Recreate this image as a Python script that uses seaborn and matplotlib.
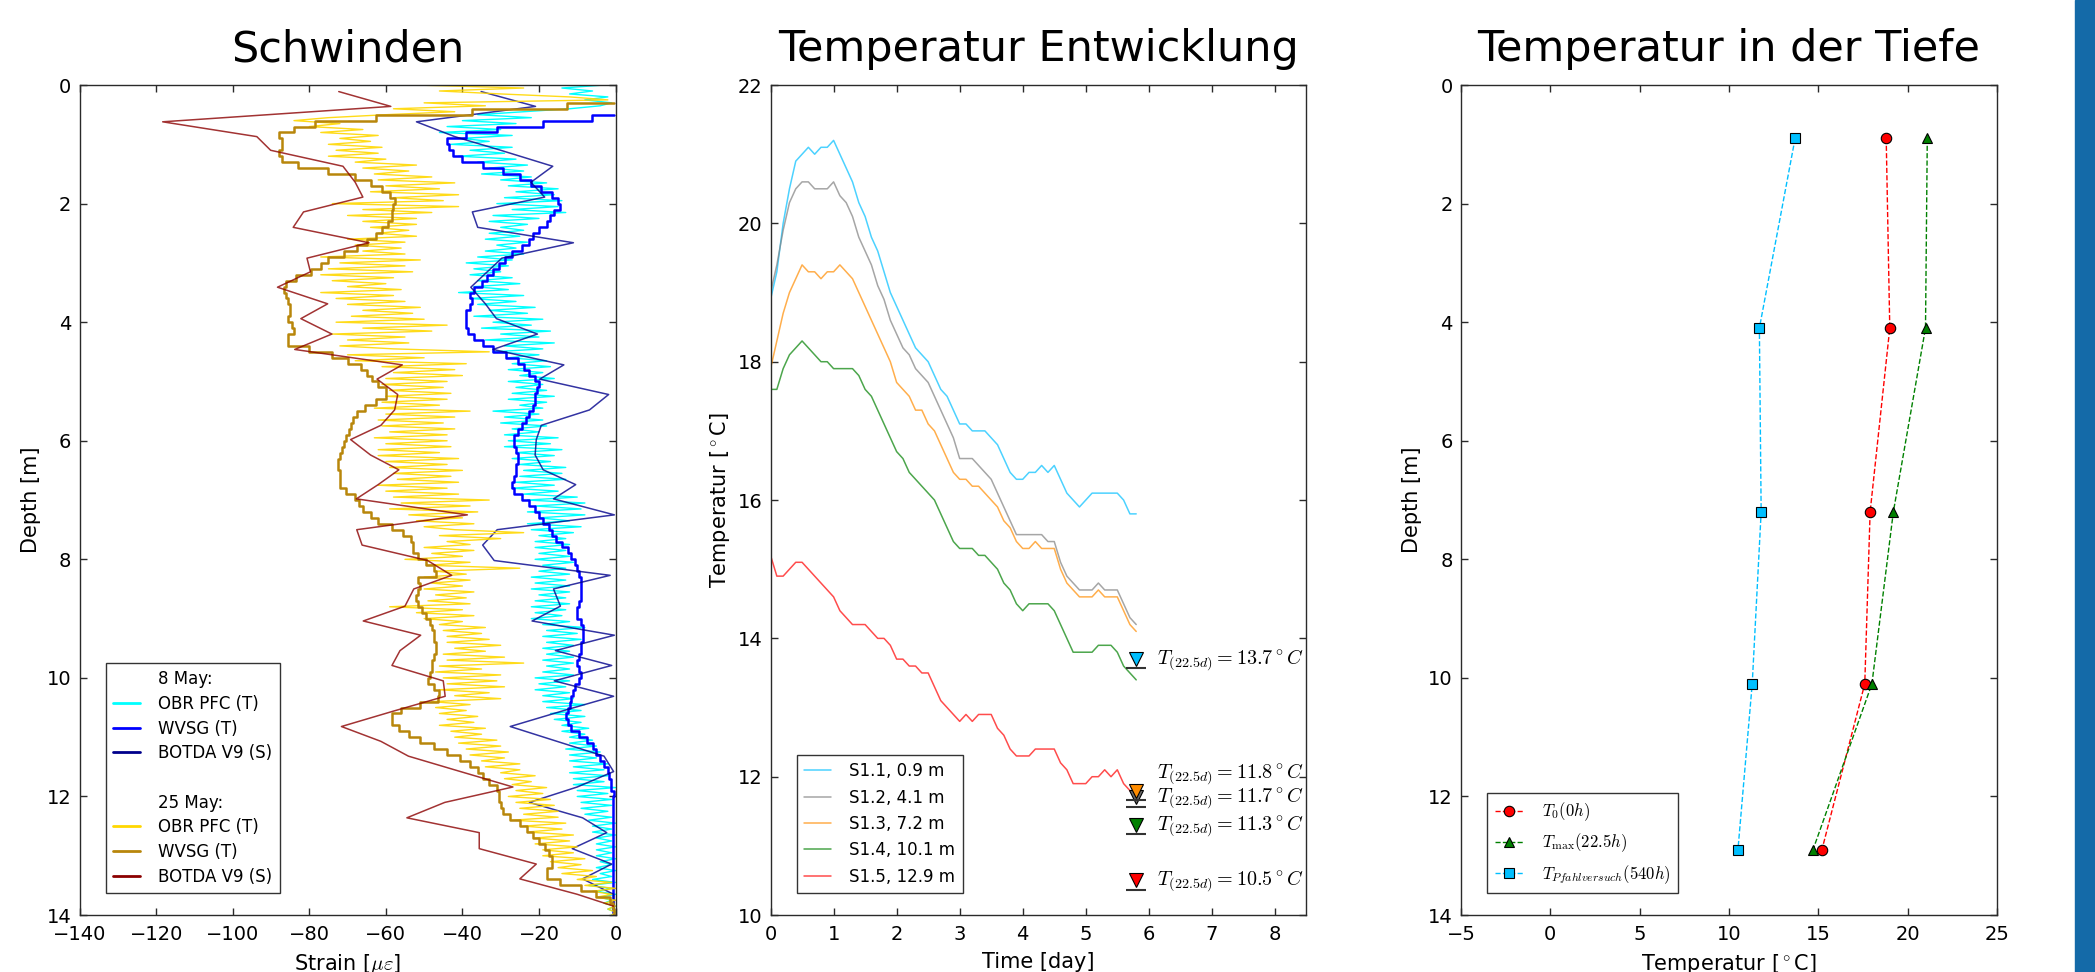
import numpy as np
import matplotlib
matplotlib.use("Agg")
import matplotlib.pyplot as plt
import seaborn as sns
from matplotlib.lines import Line2D
from matplotlib.patches import Rectangle

# ---------------- Schwinden (strain over depth) ----------------
depth_obr = np.round(np.arange(0, 14.001, 0.05), 2)

obr_may08 = [
    -3, -14, -6, -12, -2, -8, -1, -4, -12, -24,
    -36, -22, -40, -26, -44, -30, -46, -27, -40, -33,
    -43, -27, -38, -29, -41, -26, -36, -23, -33, -24,
    -35, -22, -30, -18, -28, -15, -26, -16, -29, -14,
    -31, -15, -27, -13, -32, -20, -33, -23, -30, -24,
    -33, -25, -34, -23, -31, -26, -34, -24, -36, -27,
    -39, -28, -37, -30, -38, -27, -36, -25, -37, -28,
    -41, -24, -38, -26, -36, -21, -33, -23, -37, -19,
    -32, -22, -35, -17, -30, -20, -34, -16, -29, -19,
    -32, -20, -28, -18, -27, -17, -28, -19, -25, -16,
    -28, -19, -26, -18, -27, -16, -28, -18, -25, -19,
    -32, -20, -29, -19, -30, -18, -27, -20, -29, -15,
    -28, -17, -29, -14, -26, -16, -27, -17, -25, -13,
    -24, -14, -25, -13, -26, -16, -27, -15, -24, -10,
    -23, -8, -21, -9, -23, -8, -20, -12, -23, -9,
    -22, -11, -20, -13, -21, -12, -21, -13, -20, -12,
    -21, -11, -19, -13, -20, -12, -22, -13, -21, -12,
    -22, -12, -20, -13, -21, -12, -22, -13, -21, -14,
    -22, -12, -19, -8, -18, -10, -19, -9, -18, -11,
    -19, -12, -18, -11, -19, -11, -18, -12, -19, -11,
    -21, -12, -20, -13, -21, -12, -19, -11, -19, -8,
    -18, -9, -17, -8, -16, -9, -14, -7, -14, -8,
    -12, -6, -12, -5, -13, -4, -12, -5, -12, -2,
    -11, -3, -12, -2, -11, -3, -11, 0, -10, -2,
    -10, -1, -9, -1, -9, -2, -8, -1, -7, 0,
    -6, -1, -6, 0, -5, -1, -5, 0, -5, -1,
    -5, 0, -4, -1, -5, 0, -4, -1, -6, 0,
    -7, -1, -5, 0, -4, -1, -3, 0, -2, 0,
    -1,
]

obr_may25 = [
    -52, -24, -46, -30, -12, -2, -50, -34, -58, -42,
    -60, -75, -84, -72, -80, -66, -77, -62, -72, -64,
    -75, -61, -73, -62, -75, -60, -68, -52, -66, -54,
    -63, -48, -62, -42, -60, -46, -64, -41, -58, -45,
    -74, -41, -66, -48, -70, -52, -66, -52, -64, -54,
    -62, -52, -70, -55, -68, -56, -66, -55, -77, -51,
    -72, -55, -75, -53, -77, -58, -74, -60, -70, -56,
    -77, -58, -73, -55, -70, -51, -66, -53, -69, -50,
    -73, -44, -66, -48, -74, -55, -70, -54, -72, -58,
    -33, -70, -50, -68, -39, -61, -42, -58, -40, -60,
    -44, -61, -45, -59, -43, -60, -44, -61, -46, -63,
    -38, -60, -42, -62, -45, -61, -42, -59, -44, -63,
    -44, -60, -43, -62, -46, -62, -41, -60, -44, -59,
    -40, -58, -43, -57, -41, -62, -44, -60, -41, -58,
    -33, -56, -38, -59, -36, -54, -40, -52, -37, -50,
    -42, -24, -46, -30, -44, -38, -50, -37, -48, -40,
    -55, -38, -49, -25, -47, -39, -50, -38, -48, -40,
    -50, -37, -47, -39, -49, -38, -59, -40, -52, -37,
    -50, -40, -46, -34, -45, -35, -44, -33, -44, -30,
    -42, -34, -45, -29, -44, -24, -46, -35, -47, -30,
    -45, -31, -44, -29, -46, -33, -42, -30, -48, -38,
    -47, -39, -46, -36, -44, -37, -46, -34, -43, -35,
    -42, -31, -41, -30, -39, -28, -38, -29, -35, -25,
    -34, -25, -30, -21, -29, -22, -27, -18, -26, -19,
    -28, -17, -26, -16, -25, -15, -24, -15, -27, -13,
    -24, -14, -23, -11, -21, -12, -21, -10, -19, -11,
    -19, -8, -17, -9, -15, -6, -14, -5, -10, -1,
    -8, 0, -6, -1, -5, 0, -3, 0, -2, 0,
    -1,
]

depth_wvsg_may08 = np.round(np.arange(0.5, 14.001, 0.1), 1)
wvsg_may08 = [
    -0.5, -12, -26, -36, -42,
    -46, -41, -44, -36, -33,
    -26, -24, -20, -19, -14,
    -16, -13, -19, -15, -21,
    -19, -24, -21, -28, -26,
    -32, -29, -35, -32, -38,
    -36, -40, -35, -41, -37,
    -41, -37, -40, -34, -35,
    -29, -28, -23, -25, -20,
    -22, -18, -23, -19, -23,
    -20, -25, -22, -27, -24,
    -29, -24, -28, -23, -28,
    -24, -28, -25, -29, -24,
    -25, -20, -22, -18, -20,
    -15, -18, -13, -15, -10,
    -13, -8, -12, -7, -11,
    -7, -11, -7, -12, -8,
    -12, -6, -11, -6, -11,
    -7, -11, -8, -12, -7,
    -11, -8, -13, -9, -14,
    -10, -15, -11, -14, -9,
    -10, -5, -7, -3, -5,
    -1, -3, -0.5, -2, -0.5,
    -0.5, -1, -0.5, -1, -0.5,
    -1, -0.5, -1, -0.5, -1,
    -0.5, -1, -0.5, -1, -0.5,
    -1, -0.5, -1, -0.5, -1,
    -0.5,
]

depth_wvsg_may25 = np.round(np.arange(0.3, 14.001, 0.1), 1)
wvsg_may25 = [
    -0.5, -25, -50, -75, -82,
    -86, -90, -84, -90, -86,
    -88, -78, -72, -64, -64,
    -58, -60, -55, -61, -56,
    -61, -58, -64, -61, -69,
    -66, -76, -74, -80, -79,
    -88, -84, -89, -83, -88,
    -82, -88, -83, -86, -82,
    -89, -82, -78, -70, -70,
    -63, -67, -60, -64, -56,
    -64, -61, -70, -65, -72,
    -66, -73, -68, -74, -69,
    -75, -70, -75, -69, -75,
    -69, -72, -64, -70, -62,
    -66, -58, -59, -52, -55,
    -51, -55, -48, -51, -44,
    -50, -53, -49, -54, -50,
    -53, -48, -51, -46, -50,
    -45, -50, -44, -50, -45,
    -51, -45, -52, -46, -49,
    -43, -50, -52, -60, -57,
    -60, -53, -55, -47, -48,
    -40, -41, -35, -37, -32,
    -34, -28, -33, -28, -32,
    -27, -28, -22, -24, -19,
    -21, -16, -19, -14, -19,
    -17, -19, -10, -8, -2,
    -1, -0.5, -0.5,
]

depth_botda = [0.11, 0.36, 0.62, 0.87, 1.10, 1.37, 1.64, 1.89, 2.14, 2.40,
               2.66, 2.92, 3.15, 3.41, 3.69, 3.94, 4.20, 4.46, 4.72, 4.96,
               5.22, 5.48, 5.74, 5.98, 6.24, 6.49, 6.74, 6.98, 7.25, 7.50,
               7.76, 8.02, 8.27, 8.50, 8.79, 9.04, 9.28, 9.54, 9.79, 10.05,
               10.31, 10.56, 10.82, 11.07, 11.32, 11.58, 11.84, 12.10, 12.36, 12.61,
               12.88, 13.14, 13.39, 13.65, 13.85]
botda_may08 = [-35.1, -20.9, -52.0, -42.0, -30.0, -16.4, -22.1, -18.5, -37.4, -36.0,
               -11.0, -29.7, -33.5, -37.8, -34.0, -31.1, -20.4, -32.0, -13.5, -19.8,
               -1.8, -6.8, -19.4, -20.7, -21.0, -18.9, -10.4, -16.2, -0.3, -30.9,
               -34.7, -31.7, -1.4, -16.2, -14.4, -21.8, -0.3, -15.7, -1.0, -16.0,
               -0.5, -14.0, -27.5, -15.3, -3.0, -0.5, -10.0, -22.5, -8.6, -2.3,
               -11.3, -1.0, -8.6, -0.5, -0.5]
botda_may25 = [-72.3, -58.7, -118.3, -93.7, -90.1, -71.2, -68.0, -66.0, -81.5, -84.2,
               -64.4, -80.6, -79.7, -88.3, -75.2, -82.2, -74.1, -83.8, -55.7, -62.3,
               -56.9, -57.7, -61.3, -69.2, -64.0, -56.6, -62.0, -67.7, -38.7, -67.6,
               -66.2, -49.1, -42.8, -52.7, -55.0, -65.9, -50.9, -56.3, -58.4, -45.0,
               -44.5, -58.0, -71.6, -61.3, -54.1, -40.5, -26.8, -44.6, -54.5, -35.6,
               -35.6, -20.7, -25.0, -10.0, -0.5]

# ---------------- Temperatur Entwicklung (temperature over time) ----------------
time_days = np.round(np.arange(0, 5.85, 0.1), 1)
temp_s11 = [18.9, 19.3, 20.0, 20.5, 20.9, 21.0, 21.1, 21.0, 21.1, 21.1,
            21.2, 21.0, 20.8, 20.6, 20.3, 20.1, 19.8, 19.6, 19.3, 19.0,
            18.8, 18.6, 18.4, 18.2, 18.1, 18.0, 17.8, 17.6, 17.5, 17.3,
            17.1, 17.1, 17.0, 17.0, 17.0, 16.9, 16.8, 16.6, 16.4, 16.3,
            16.3, 16.4, 16.4, 16.5, 16.4, 16.5, 16.3, 16.1, 16.0, 15.9,
            16.0, 16.1, 16.1, 16.1, 16.1, 16.1, 16.0, 15.8, 15.8]
temp_s12 = [19.0, 19.4, 19.9, 20.3, 20.5, 20.6, 20.6, 20.5, 20.5, 20.5,
            20.6, 20.4, 20.3, 20.1, 19.8, 19.6, 19.4, 19.1, 18.9, 18.6,
            18.4, 18.2, 18.1, 17.9, 17.8, 17.7, 17.5, 17.3, 17.1, 16.9,
            16.6, 16.6, 16.6, 16.5, 16.4, 16.3, 16.1, 15.9, 15.7, 15.5,
            15.5, 15.5, 15.5, 15.5, 15.4, 15.4, 15.1, 14.9, 14.8, 14.7,
            14.7, 14.7, 14.8, 14.7, 14.7, 14.7, 14.5, 14.3, 14.2]
temp_s13 = [17.9, 18.3, 18.7, 19.0, 19.2, 19.4, 19.3, 19.3, 19.2, 19.3,
            19.3, 19.4, 19.3, 19.2, 19.0, 18.8, 18.6, 18.4, 18.2, 18.0,
            17.7, 17.6, 17.5, 17.3, 17.3, 17.1, 17.0, 16.8, 16.6, 16.4,
            16.3, 16.3, 16.2, 16.2, 16.1, 16.0, 15.9, 15.7, 15.6, 15.4,
            15.3, 15.3, 15.4, 15.3, 15.3, 15.3, 15.0, 14.8, 14.7, 14.6,
            14.6, 14.6, 14.7, 14.6, 14.6, 14.6, 14.4, 14.2, 14.1]
temp_s14 = [17.6, 17.6, 17.9, 18.1, 18.2, 18.3, 18.2, 18.1, 18.0, 18.0,
            17.9, 17.9, 17.9, 17.9, 17.8, 17.6, 17.5, 17.3, 17.1, 16.9,
            16.7, 16.6, 16.4, 16.3, 16.2, 16.1, 16.0, 15.8, 15.6, 15.4,
            15.3, 15.3, 15.3, 15.2, 15.2, 15.1, 15.0, 14.8, 14.7, 14.5,
            14.4, 14.5, 14.5, 14.5, 14.5, 14.4, 14.2, 14.0, 13.8, 13.8,
            13.8, 13.8, 13.9, 13.9, 13.9, 13.8, 13.6, 13.5, 13.4]
temp_s15 = [15.2, 14.9, 14.9, 15.0, 15.1, 15.1, 15.0, 14.9, 14.8, 14.7,
            14.6, 14.4, 14.3, 14.2, 14.2, 14.2, 14.1, 14.0, 14.0, 13.9,
            13.7, 13.7, 13.6, 13.6, 13.5, 13.5, 13.3, 13.1, 13.0, 12.9,
            12.8, 12.9, 12.8, 12.9, 12.9, 12.9, 12.7, 12.6, 12.4, 12.3,
            12.3, 12.3, 12.4, 12.4, 12.4, 12.4, 12.2, 12.1, 11.9, 11.9,
            11.9, 12.0, 12.0, 12.1, 12.0, 12.1, 11.9, 11.8, 11.7]
sensor_labels = ["S1.1, 0.9 m", "S1.2, 4.1 m", "S1.3, 7.2 m", "S1.4, 10.1 m", "S1.5, 12.9 m"]
t_marker = 5.8
label_nudge = [0, 0, 0.25, 0, 0]

# ---------------- Temperatur in der Tiefe ----------------
sensor_depth = [0.9, 4.1, 7.2, 10.1, 12.9]
temp_t0 = [18.8, 19.0, 17.9, 17.6, 15.2]
temp_tmax = [21.1, 21.0, 19.2, 18.0, 14.7]
temp_pfahl = [13.7, 11.7, 11.8, 11.3, 10.5]

# ---------------- style ----------------
sns.set_style("ticks")
plt.rcParams["font.family"] = ["DejaVu Sans"]
plt.rcParams.update({
    "mathtext.fontset": "cm",
    "text.color": "black", "axes.labelcolor": "black",
    "xtick.direction": "in", "ytick.direction": "in",
    "xtick.top": True, "ytick.right": True,
    "xtick.major.size": 5, "ytick.major.size": 5,
    "xtick.major.width": 1, "ytick.major.width": 1,
    "xtick.major.pad": 7, "ytick.major.pad": 6,
    "xtick.labelsize": 14, "ytick.labelsize": 14,
    "axes.edgecolor": "#2a2a2a", "axes.linewidth": 1.0,
    "xtick.color": "#2a2a2a", "ytick.color": "#2a2a2a",
    "xtick.labelcolor": "black", "ytick.labelcolor": "black",
})

fig = plt.figure(figsize=(20.95, 9.72), dpi=100)
ax1 = fig.add_axes([0.0380, 0.0586, 0.2558, 0.8539])
ax2 = fig.add_axes([0.3678, 0.0586, 0.2558, 0.8539])
ax3 = fig.add_axes([0.6974, 0.0586, 0.2558, 0.8539])

leg_kw = dict(loc="lower left", bbox_to_anchor=(0.033, 0.0165), fontsize=12,
              fancybox=False, edgecolor="#333333", framealpha=1, borderpad=0.45,
              handlelength=1.6, handletextpad=1.1)

# panel 1
line_kw = dict(orient="y", sort=False, estimator=None, ax=ax1, legend=False)
sns.lineplot(x=obr_may08, y=depth_obr, color="cyan", linewidth=1.0, **line_kw)
sns.lineplot(x=wvsg_may08, y=depth_wvsg_may08, color="blue", linewidth=1.8,
             drawstyle="steps-mid", **line_kw)
sns.lineplot(x=botda_may08, y=depth_botda, color="darkblue", alpha=0.8, linewidth=1.1, **line_kw)
sns.lineplot(x=obr_may25, y=depth_obr, color="gold", alpha=0.9, linewidth=1.0, **line_kw)
sns.lineplot(x=wvsg_may25, y=depth_wvsg_may25, color="darkgoldenrod", linewidth=1.8,
             drawstyle="steps-mid", **line_kw)
sns.lineplot(x=botda_may25, y=depth_botda, color="darkred", alpha=0.8, linewidth=1.1, **line_kw)

ax1.set_xlim(-140, 0)
ax1.set_ylim(14, 0)
ax1.set_xticks(np.arange(-140, 1, 20))
ax1.set_yticks(np.arange(0, 15, 2))
ax1.set_title("Schwinden", fontsize=31, pad=17)
ax1.set_xlabel(r"Strain [$\mu\varepsilon$]", fontsize=15, labelpad=6)
ax1.set_ylabel("Depth [m]", fontsize=15)

blank = Line2D([], [], linestyle="none")
handles1 = [blank,
            Line2D([], [], color="cyan", lw=2),
            Line2D([], [], color="blue", lw=2),
            Line2D([], [], color="darkblue", lw=2),
            blank, blank,
            Line2D([], [], color="gold", lw=2),
            Line2D([], [], color="darkgoldenrod", lw=2),
            Line2D([], [], color="darkred", lw=2)]
labels1 = ["8 May:", "OBR PFC (T)", "WVSG (T)", "BOTDA V9 (S)", " ",
           "25 May:", "OBR PFC (T)", "WVSG (T)", "BOTDA V9 (S)"]
kw1 = dict(leg_kw)
kw1.update(labelspacing=0.4)
ax1.legend(handles1, labels1, **kw1)

# panel 2
series2 = [temp_s11, temp_s12, temp_s13, temp_s14, temp_s15]
colors2 = ["deepskyblue", "gray", "darkorange", "green", "red"]
marker_colors = ["deepskyblue", "dimgray", "darkorange", "green", "red"]
for vals, col, lab in zip(series2, colors2, sensor_labels):
    sns.lineplot(x=time_days, y=vals, color=col, alpha=0.7, linewidth=1.1,
                 estimator=None, ax=ax2, label=lab)
for val, col, dy in zip(temp_pfahl, marker_colors, label_nudge):
    ax2.plot([t_marker], [val - 0.135], marker="_", ms=14, mew=1.5, color="#333333")
    ax2.plot([t_marker], [val], marker="v", ms=10, mfc=col, mec="black", mew=0.8, ls="none")
    ax2.text(6.13, val + dy, r"$T_{(22.5d)}=%.1f^\circ C$" % val, fontsize=14.5, va="center")

ax2.set_xlim(0, 8.5)
ax2.set_ylim(10, 22)
ax2.set_xticks(np.arange(0, 9, 1))
ax2.set_yticks(np.arange(10, 23, 2))
ax2.set_title("Temperatur Entwicklung", fontsize=31, pad=17)
ax2.set_xlabel("Time [day]", fontsize=15, labelpad=6)
ax2.set_ylabel(r"Temperatur [$^\circ$C]", fontsize=15)
h2, l2 = ax2.get_legend_handles_labels()
ax2.legend(h2[:5], l2[:5], **leg_kw)

# panel 3
prof_kw = dict(orient="y", sort=False, estimator=None, ax=ax3, ls="--", lw=1,
               ms=7.5, mec="black", mew=0.8)
sns.lineplot(x=temp_t0, y=sensor_depth, color="red", marker="o",
             label=r"$T_0(0h)$", **prof_kw)
sns.lineplot(x=temp_tmax, y=sensor_depth, color="green", marker="^",
             label=r"$T_{\max}(22.5h)$", **prof_kw)
sns.lineplot(x=temp_pfahl, y=sensor_depth, color="deepskyblue", marker="s",
             label=r"$T_{Pfahlversuch}(540h)$", **prof_kw)

ax3.set_xlim(-5, 25)
ax3.set_ylim(14, 0)
ax3.set_xticks(np.arange(-5, 26, 5))
ax3.set_yticks(np.arange(0, 15, 2))
ax3.set_title("Temperatur in der Tiefe", fontsize=31, pad=17)
ax3.set_xlabel(r"Temperatur [$^\circ$C]", fontsize=15, labelpad=6)
ax3.set_ylabel("Depth [m]", fontsize=15)
kw3 = dict(leg_kw)
kw3.update(handlelength=1.75)
ax3.legend(**kw3)

for ax in (ax1, ax2, ax3):
    ax.tick_params(which="both", top=True, right=True, direction="in")

fig.add_artist(Rectangle((2075 / 2095, 0), 20 / 2095, 1, transform=fig.transFigure,
                         color="#146aa8", zorder=0))

fig.savefig("out.png", dpi=100)
